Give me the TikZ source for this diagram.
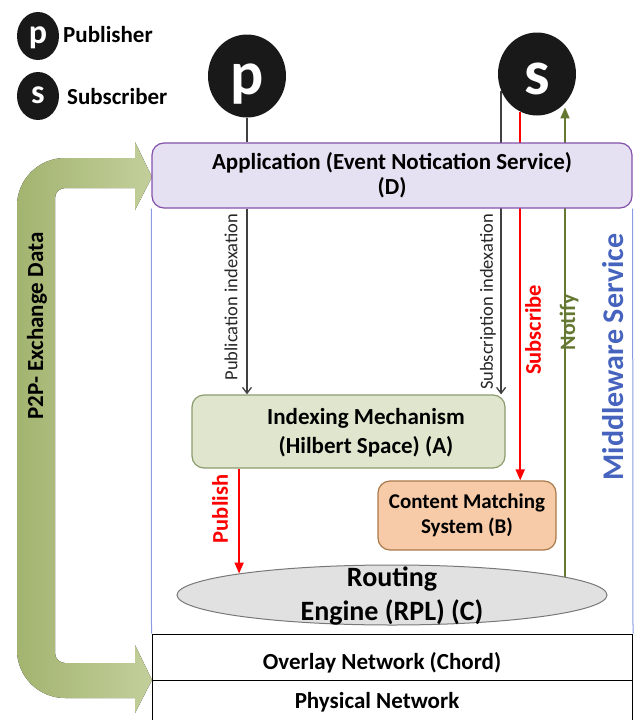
\documentclass[tikz,border=0pt]{standalone}
\usepackage{fontspec}
\setmainfont{Carlito}
\usetikzlibrary{arrows.meta,shapes.geometric}
\pgfdeclarelayer{bg}
\pgfsetlayers{bg,main}
\definecolor{appfill}{RGB}{230,225,242}
\definecolor{appdraw}{RGB}{130,80,170}
\definecolor{idxfill}{RGB}{223,230,205}
\definecolor{idxdraw}{RGB}{140,155,110}
\definecolor{cmsfill}{RGB}{247,203,168}
\definecolor{cmsdraw}{RGB}{170,120,75}
\definecolor{refill}{RGB}{225,225,225}
\definecolor{redraw}{RGB}{120,120,120}
\definecolor{mwline}{RGB}{140,155,225}
\definecolor{mwtext}{RGB}{70,100,190}
\definecolor{notif}{RGB}{100,120,50}
\definecolor{arrdark}{RGB}{163,180,112}
\definecolor{arrlight}{RGB}{195,207,155}
\definecolor{darkline}{RGB}{64,64,64}
\definecolor{circ}{RGB}{25,25,25}
\begin{document}
\begin{tikzpicture}[x=1pt,y=-1pt,
 circnode/.style={ellipse,fill=circ,text=white,inner sep=0pt,text depth=0pt},
 box/.style={rounded corners=12pt,inner sep=0pt,line width=1.2pt},
 lbl/.style={font=\bfseries\fontsize{23}{25}\selectfont,inner sep=0pt},
 vlbl/.style={rotate=90,inner sep=0pt},
 grayarrow/.style={draw=darkline,line width=1.3pt,-{Straight Barb[length=6pt,width=9pt]}},
 redarrow/.style={draw=red,line width=1.8pt,-{Triangle[length=11pt,width=9pt]}},
 greenarrow/.style={draw=notif,line width=1.8pt,-{Triangle[length=11pt,width=9pt]}}
]
\useasboundingbox (0,0) rectangle (633,720);

% P2P bracket arrow
\fill[left color=arrdark,right color=arrlight]
 (152,177) -- (135,142) -- (135,158) -- (65,158)
 .. controls (38.5,158) and (17,179.5) .. (17,206) -- (17,650)
 .. controls (17,676.5) and (38.5,698) .. (65,698) -- (135,698) -- (135,713)
 -- (152,680) -- (135,645) -- (135,663) -- (65,663)
 .. controls (59.5,663) and (55,658.5) .. (55,653) -- (55,198)
 .. controls (55,192.5) and (59.5,188) .. (65,188) -- (135,188) -- (135,210) -- cycle;
\node[vlbl,font=\bfseries\fontsize{23}{25}\selectfont] (p2p) at (37,326) {P2P- Exchange Data};

% network layers
\node[draw=black,line width=1pt,minimum width=480.5pt,minimum height=46pt,inner sep=0pt] (ov) at (392.25,657) {};
\node[draw=black,line width=1pt,minimum width=480.5pt,minimum height=40pt,inner sep=0pt] (ph) at (392.25,700) {};
\node[lbl] (ovt) at (382,663) {Overlay Network (Chord)};
\node[lbl] (pht) at (377,702) {Physical Network};

% application box
\node[box,lbl,draw=appdraw,fill=appfill,minimum width=480pt,minimum height=65pt,align=center] (app) at (392,175.5) {Application (Event Notication Service)\\(D)};
\draw[mwline,line width=1pt] (app.south west) -- (ov.north west);
\draw[mwline,line width=1pt] (app.south east) -- (ov.north east);

% inner components
\node[box,draw=idxdraw,fill=idxfill,minimum width=313pt,minimum height=73pt] (idx) at (348.5,431.5) {};
\node[lbl,align=center,font=\bfseries\fontsize{23}{29}\selectfont] (idxt) at (366,432.5) {Indexing Mechanism\\(Hilbert Space) (A)};
\node[box,draw=cmsdraw,fill=cmsfill,minimum width=178pt,minimum height=69pt,align=center,font=\bfseries\fontsize{21}{25}\selectfont] (cms) at (467,515.5) {Content Matching\\System (B)};
\node[ellipse,draw=redraw,fill=refill,line width=1pt,minimum width=430pt,minimum height=60pt,inner sep=0pt] (re) at (392,595) {};
\node[align=center,font=\bfseries\fontsize{28}{34}\selectfont,inner sep=0pt] (ret) at (392,596) {Routing\\Engine (RPL) (C)};

% actors
\node[circnode,minimum width=78pt,minimum height=83pt,text height=37pt,font=\bfseries\fontsize{62}{62}\selectfont] (p) at (247,76) {p};
\node[circnode,minimum width=78pt,minimum height=83pt,text height=40pt,font=\bfseries\fontsize{64}{64}\selectfont] (s) at (537,74) {s};

% legend
\node[circnode,minimum width=42pt,minimum height=48pt,text height=15pt,font=\bfseries\fontsize{34}{34}\selectfont] (lp) at (38,36) {p};
\node[lbl,anchor=west] (lpt) at (63,35) {Publisher};
\node[circnode,minimum width=42pt,minimum height=48pt,text height=15.8pt,font=\bfseries\fontsize{34}{34}\selectfont] (ls) at (38,96) {s};
\node[lbl,anchor=west] (lst) at (67,97) {Subscriber};

% connectors
\begin{pgfonlayer}{bg}
\draw[darkline,line width=1.3pt] (p.south) -- (p.south |- app.north);
\draw[grayarrow] (p.south |- app.south) -- (p.south |- idx.north);
\draw[grayarrow] (s.205) -- (s.205 |- idx.north);
\draw[redarrow] (s.246) -- (s.246 |- cms.north);
\draw[greenarrow] (re.6.35) -- (re.6.35 |- s.305);
\draw[redarrow] (re.172.2 |- idx.south) -- (re.172.2);
\end{pgfonlayer}

% connector labels
\node[vlbl,text=black!85,font=\fontsize{18.5}{20}\selectfont] (pil) at (231,297) {Publication indexation};
\node[vlbl,text=black!85,font=\fontsize{18.5}{20}\selectfont] (sil) at (488,302) {Subscription indexation};
\node[vlbl,font=\bfseries\fontsize{22.5}{24}\selectfont,text=red] (subl) at (533,330) {Subscribe};
\node[vlbl,font=\bfseries\fontsize{22}{24}\selectfont,text=notif] (notl) at (569,322) {Notify};
\node[vlbl,font=\bfseries\fontsize{22.5}{24}\selectfont,text=red] (publ) at (220,509) {Publish};
\node[vlbl,font=\bfseries\fontsize{30}{32}\selectfont,text=mwtext] (mw) at (613,357) {Middleware Service};
\end{tikzpicture}
\end{document}
